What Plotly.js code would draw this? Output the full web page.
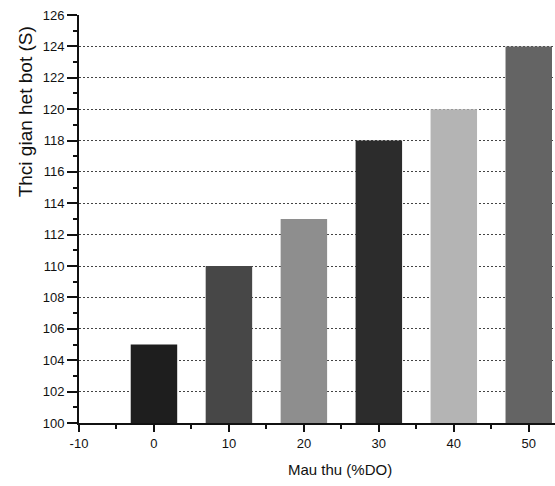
<!DOCTYPE html>
<html>
<head>
<meta charset="utf-8">
<script src="https://cdn.plot.ly/plotly-3.0.1.min.js"></script>
<style>html,body{margin:0;padding:0;background:#fff;overflow:hidden;}#chart{width:555px;height:486px;}</style>
</head>
<body>
<div id="chart"></div>
<script>
var categories = [0, 10, 20, 30, 40, 50];
var values = [105, 110, 113, 118, 120, 124];
var barColors = ['#1e1e1e', '#474747', '#8e8e8e', '#2c2c2c', '#b4b4b4', '#646464'];
var yTickVals = [100, 102, 104, 106, 108, 110, 112, 114, 116, 118, 120, 122, 124, 126];
var gridVals = [102, 104, 106, 108, 110, 112, 114, 116, 118, 120, 122, 124];
var xTickVals = [-10, 0, 10, 20, 30, 40, 50];
var xTickText = ['-10', '0', '10', '20', '30', '40', '50'];
var xTitle = 'Mau thu (%DO)';
var yTitle = 'Thci gian het bot (S)';

var font = {family: 'Liberation Sans, Arial, sans-serif', color: '#111'};

var trace = {
  type: 'bar',
  x: categories,
  y: values.map(function(v){ return v - 100; }),
  base: 100,
  width: 6.2,
  marker: {color: barColors, line: {width: 0}},
  hoverinfo: 'skip'
};

// invisible trace to activate the grid overlay axis
var gridTrace = {
  type: 'scatter', mode: 'none', x: [categories[0]], y: [values[0]],
  yaxis: 'y2', showlegend: false, hoverinfo: 'skip'
};

var layout = {
  width: 555, height: 486,
  margin: {l: 79, r: 0, t: 15, b: 63},
  paper_bgcolor: '#fff', plot_bgcolor: 'rgba(0,0,0,0)',
  showlegend: false,
  font: font,
  xaxis: {
    range: [-10, 53.5],
    tickvals: xTickVals,
    ticktext: xTickText,
    ticks: 'outside', ticklen: 7, tickwidth: 2, tickcolor: '#111',
    minor: {dtick: 5, tick0: -5, ticks: 'outside', ticklen: 4, tickwidth: 2, tickcolor: '#111'},
    showline: true, linecolor: '#111', linewidth: 2,
    showgrid: false, zeroline: false,
    tickfont: {size: 13, family: font.family, color: '#111'}
  },
  yaxis: {
    range: [100, 126],
    tickvals: yTickVals,
    ticks: 'outside', ticklen: 10, tickwidth: 2, tickcolor: '#111',
    minor: {dtick: 1, tick0: 101, ticks: 'outside', ticklen: 4, tickwidth: 2, tickcolor: '#111'},
    showline: true, linecolor: '#111', linewidth: 2,
    showgrid: false, zeroline: false,
    tickfont: {size: 13, family: font.family, color: '#111'}
  },
  yaxis2: {
    overlaying: 'y', range: [100, 126],
    tickvals: gridVals,
    showticklabels: false, ticks: '',
    showgrid: true, gridcolor: '#444', gridwidth: 1, griddash: '2px,2px',
    showline: false, zeroline: false
  },
  annotations: [
    {text: xTitle, xref: 'paper', yref: 'paper', x: 0.548, y: -0.115, xanchor: 'center', yanchor: 'middle',
     showarrow: false, font: {size: 15, family: font.family, color: '#111'}},
    {text: yTitle, xref: 'paper', yref: 'paper', x: -0.113, y: 0.762, xanchor: 'center', yanchor: 'middle',
     textangle: -90, showarrow: false, font: {size: 19, family: font.family, color: '#111'}}
  ]
};

Plotly.newPlot('chart', [gridTrace, trace], layout, {displayModeBar: false, staticPlot: true});
</script>
</body>
</html>
